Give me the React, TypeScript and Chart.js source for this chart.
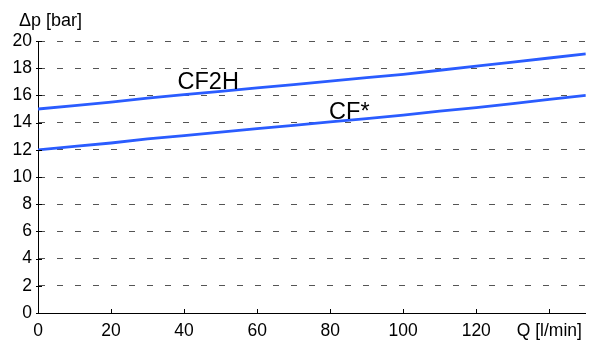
import React, { useEffect, useRef } from "react";
import { Chart, registerables } from "chart.js";

Chart.register(...registerables);

// Flow rate Q [l/min]
const flowQ = [0, 10, 20, 30, 40, 50, 60, 70, 80, 90, 100, 110, 120, 130, 140, 150];
// Pressure drop Δp [bar]
const cf2h = [15.0, 15.25, 15.5, 15.8, 16.05, 16.3, 16.55, 16.8, 17.05, 17.3, 17.55, 17.85, 18.15, 18.45, 18.75, 19.05];
const cfStar = [12.0, 12.25, 12.5, 12.8, 13.05, 13.3, 13.55, 13.8, 14.05, 14.3, 14.55, 14.85, 15.1, 15.4, 15.7, 16.0];

const seriesNames = ["CF2H", "CF*"];
const xTicks = [0, 20, 40, 60, 80, 100, 120, 140];
const xTickLabels = ["0", "20", "40", "60", "80", "100", "120", "Q [l/min]"];
const yTicks = [0, 2, 4, 6, 8, 10, 12, 14, 16, 18, 20];
const yAxisTitle = "Δp [bar]";
// label anchors in data units (left, baseline)
const labelAnchorQ = [38.2, 79.7];
const labelAnchorP = [16.45, 14.24];

const FONT = '"Liberation Sans", Arial, Helvetica, sans-serif';
const LINE_COLOR = "#2a5cff";

const annotPlugin = {
  id: "annot",
  afterDraw(chart: any) {
    const { ctx } = chart;
    const x = chart.scales.x;
    const y = chart.scales.y;
    ctx.save();
    ctx.strokeStyle = "#000";
    ctx.lineWidth = 1;
    xTicks.forEach((v) => {
      const px = Math.round(x.getPixelForValue(v)) + 0.5;
      ctx.beginPath();
      ctx.moveTo(px, y.bottom);
      ctx.lineTo(px, y.bottom - 4);
      ctx.stroke();
    });
    yTicks.forEach((v) => {
      const py = Math.round(y.getPixelForValue(v)) + 0.5;
      ctx.beginPath();
      ctx.moveTo(x.left - 2, py);
      ctx.lineTo(x.left + 4, py);
      ctx.stroke();
    });
    ctx.fillStyle = "#000";
    ctx.textAlign = "left";
    ctx.textBaseline = "alphabetic";
    ctx.font = `23.5px ${FONT}`;
    seriesNames.forEach((n, i) => {
      ctx.fillText(n, x.getPixelForValue(labelAnchorQ[i]), y.getPixelForValue(labelAnchorP[i]));
    });
    ctx.font = `18px ${FONT}`;
    ctx.fillText(yAxisTitle, 19, 25.5);
    ctx.restore();
  },
};

export default function App() {
  const ref = useRef<HTMLCanvasElement | null>(null);
  useEffect(() => {
    if (!ref.current) return;
    const chart = new Chart(ref.current, {
      type: "line",
      data: {
        datasets: [
          {
            label: seriesNames[0],
            data: flowQ.map((q, i) => ({ x: q, y: cf2h[i] })),
            borderColor: LINE_COLOR,
            borderWidth: 2.8,
            pointRadius: 0,
            tension: 0,
          },
          {
            label: seriesNames[1],
            data: flowQ.map((q, i) => ({ x: q, y: cfStar[i] })),
            borderColor: LINE_COLOR,
            borderWidth: 2.8,
            pointRadius: 0,
            tension: 0,
          },
        ],
      },
      options: {
        animation: false,
        responsive: false,
        devicePixelRatio: 1,
        layout: { padding: { top: 41, right: 2, left: 0, bottom: 0 } },
        plugins: { legend: { display: false }, tooltip: { enabled: false } },
        scales: {
          x: {
            type: "linear",
            min: 0,
            max: 150,
            afterBuildTicks: (s: any) => {
              s.ticks = xTicks.map((v) => ({ value: v }));
            },
            afterFit: (s: any) => {
              s.height = 27;
            },
            ticks: {
              color: "#000",
              font: { family: FONT, size: 17.5 },
              padding: 8,
              maxRotation: 0,
              autoSkip: false,
              callback: (_v: any, i: number) => xTickLabels[i],
            },
            grid: { display: false, drawTicks: false },
            border: { display: true, color: "#000", width: 1 },
          },
          y: {
            type: "linear",
            min: 0,
            max: 20,
            afterBuildTicks: (s: any) => {
              s.ticks = yTicks.map((v) => ({ value: v }));
            },
            afterFit: (s: any) => {
              s.width = 38;
            },
            ticks: {
              color: "#000",
              font: { family: FONT, size: 17.5 },
              padding: 6,
              autoSkip: false,
            },
            grid: {
              drawTicks: false,
              lineWidth: 1,
              color: (c: any) => (c.tick && c.tick.value === 0 ? "rgba(0,0,0,0)" : "#555"),
            },
            border: { display: true, color: "#000", width: 1, dash: [6, 12] },
          },
        },
      },
      plugins: [annotPlugin],
    });
    return () => chart.destroy();
  }, []);
  return (
    <div style={{ position: "absolute", left: 0, top: 0, width: 590, height: 340 }}>
      <canvas ref={ref} width={590} height={340} />
    </div>
  );
}
